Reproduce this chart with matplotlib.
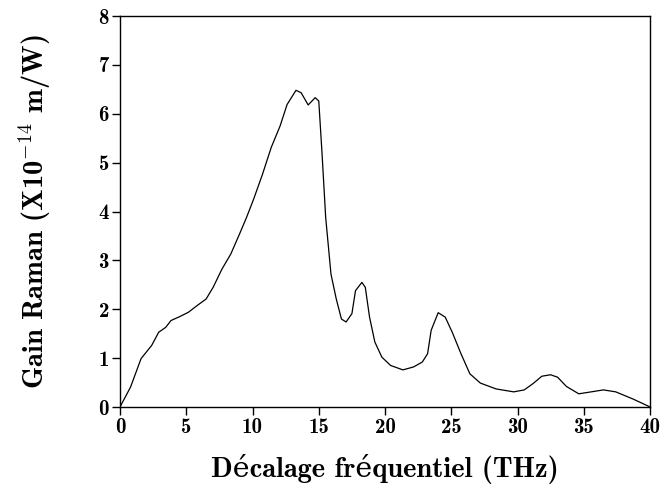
import numpy as np
import matplotlib
matplotlib.use('Agg')
from matplotlib import pyplot as plt

# Raman gain curve (THz, x1e-14 m/W)
freq = [0.0, 0.8, 1.59, 2.39, 2.92, 3.45, 3.85, 4.51, 5.17, 5.84, 6.5, 7.03,
        7.69, 8.36, 9.02, 9.55, 10.08, 10.75, 11.41, 12.08, 12.61, 13.28,
        13.67, 14.2, 14.73, 15.0, 15.25, 15.52, 15.92, 16.32, 16.71, 17.06,
        17.5, 17.77, 18.25, 18.51, 18.83, 19.23, 19.76, 20.42, 21.35, 22.15,
        22.81, 23.21, 23.48, 24.01, 24.54, 25.07, 25.73, 26.4, 27.19, 28.38,
        29.71, 30.5, 31.17, 31.83, 32.49, 33.02, 33.69, 34.62, 35.55, 36.48,
        37.41, 38.74, 39.93]
gain = [0.0, 0.41, 0.99, 1.26, 1.53, 1.63, 1.77, 1.85, 1.94, 2.08, 2.21, 2.45,
        2.82, 3.13, 3.54, 3.88, 4.25, 4.76, 5.31, 5.75, 6.19, 6.48,
        6.43, 6.18, 6.33, 6.26, 5.17, 3.88, 2.72, 2.21, 1.8, 1.74,
        1.91, 2.38, 2.55, 2.45, 1.84, 1.33, 1.02, 0.85, 0.76, 0.82,
        0.92, 1.09, 1.57, 1.93, 1.84, 1.53, 1.09, 0.68, 0.49, 0.37,
        0.31, 0.35, 0.48, 0.63, 0.66, 0.61, 0.42, 0.27, 0.31, 0.35,
        0.31, 0.16, 0.01]

xticks = [0, 5, 10, 15, 20, 25, 30, 35, 40]
yticks = [0, 1, 2, 3, 4, 5, 6, 7, 8]

plt.rcParams['font.family'] = ['cmb10', 'DejaVu Serif']
plt.rcParams['mathtext.fontset'] = 'cm'
plt.rcParams['axes.unicode_minus'] = False

fig = plt.figure(figsize=(6.6, 4.96), dpi=100)
ax = fig.add_axes([0.1818, 0.1794, 0.8032, 0.7883])

ax.plot(freq, gain, color='black', linewidth=0.9)

ax.set_xlim(0, 40)
ax.set_ylim(0, 8)
ax.set_xticks(xticks)
ax.set_yticks(yticks)
ax.tick_params(direction='out', length=6, width=1, labelsize=15, pad=2)
for s in ax.spines.values():
    s.set_linewidth(1)

ax.set_xlabel('Décalage fréquentiel (THz)', fontsize=20.5, labelpad=12)
ax.set_ylabel(r'Gain Raman (X10$^{\mathrm{-14}}$ m/W)', fontsize=20.5,
              labelpad=33)

fig.savefig('out.png', dpi=100)
